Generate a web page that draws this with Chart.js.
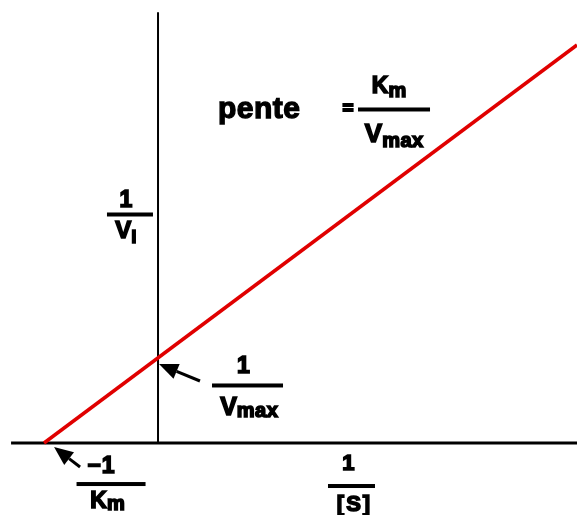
<!DOCTYPE html>
<html>
<head>
<meta charset="utf-8">
<script src="https://cdn.jsdelivr.net/npm/chart.js@4.4.1/dist/chart.umd.min.js"></script>
<style>
html,body{margin:0;padding:0;background:#fff;}
#wrap{width:577px;height:515px;}
</style>
</head>
<body>
<div id="wrap"><canvas id="c" width="577" height="515"></canvas></div>
<script>
// Lineweaver-Burk plot (data units: x = 1/[S], y = 1/Vi)
const lineX = [-1.0, 3.675];          // red line, from -1/Km to right edge
const lineY = [0.0, 4.628];
const xAxisX = [-1.289, 3.675];       // horizontal axis extent
const xAxisY = [0, 0];
const yAxisX = [0, 0];                // vertical axis extent
const yAxisY = [0, 5.01];
const xRange = [-1.386, 3.675];
const yRange = [-0.837, 5.151];

// annotation anchors (data units); part = [text, fontSize, letterSpacing, dy]
const fracLabels = [
  {x:-0.246, y:2.657, w:46, top:[['1',23,0,0]], bot:[['V',24,0,0],['i',19,0,5]], dt:-7.5, db:23.5, dxt:-4, dxb:-4},
  {x:0.785,  y:0.669, w:71, top:[['1',23,0,0]], bot:[['V',25,0,0],['max',20,0.5,2]], dt:-12.5, db:29.5, dxt:-4, dxb:1.5},
  {x:-0.412, y:-0.477,w:69, top:[['−1',23,1,0]], bot:[['K',23,0,0],['m',20,0,2]], dt:-11, db:24, dxt:-10, dxb:-3.5},
  {x:1.697,  y:-0.5,  w:47, top:[['1',22,0,0]], bot:[['[S]',22,2,0]], dt:-16, db:25, dxt:-3, dxb:2},
  {x:2.070,  y:3.878, w:72, top:[['K',23,0,0],['m',20,0,4]], bot:[['V',26,0,0],['max',20,0.5,5]], dt:-16.5, db:32.5, dxt:-5, dxb:0}
];
const penteText = {x:0.526, y:3.779, text:'pente'};
const eqText = {x:1.667, y:3.884, text:'='};
const arrows = [
  {tip:[0.009,0.919], tail:[0.368,0.721]},
  {tip:[-0.912,-0.047], tail:[-0.684,-0.279]}
];

const toPts = (xs, ys) => xs.map((v,i)=>({x:v, y:ys[i]}));

const FONT = "'Liberation Sans', Arial, sans-serif";

function txt(ctx, s, x, y){
  ctx.fillText(s, x, y);
  ctx.strokeText(s, x, y);
}

function drawParts(ctx, parts, cx, baseline){
  let total = 0;
  const ws = parts.map(p=>{
    ctx.font = 'bold ' + p[1] + 'px ' + FONT;
    ctx.letterSpacing = p[2] + 'px';
    const w = ctx.measureText(p[0]).width;
    total += w;
    return w;
  });
  total -= parts[parts.length-1][2];
  let x = cx - total/2;
  parts.forEach((p,i)=>{
    ctx.font = 'bold ' + p[1] + 'px ' + FONT;
    ctx.letterSpacing = p[2] + 'px';
    txt(ctx, p[0], x, baseline + p[3]);
    x += ws[i];
  });
  ctx.letterSpacing = '0px';
}

const annot = {
  id:'annot',
  afterDatasetsDraw(chart){
    const ctx = chart.ctx, sx = chart.scales.x, sy = chart.scales.y;
    ctx.save();
    ctx.fillStyle = '#000';
    ctx.strokeStyle = '#000';
    ctx.lineWidth = 1.6;
    ctx.lineJoin = 'miter';
    ctx.textAlign = 'left';
    ctx.textBaseline = 'alphabetic';
    fracLabels.forEach(f=>{
      const cx = sx.getPixelForValue(f.x), ly = sy.getPixelForValue(f.y);
      ctx.fillRect(cx - f.w/2, ly - 2, f.w, 4);
      drawParts(ctx, f.top, cx + f.dxt, ly + f.dt);
      drawParts(ctx, f.bot, cx + f.dxb, ly + f.db);
    });
    ctx.lineWidth = 1.3;
    ctx.font = 'bold 30px ' + FONT;
    ctx.letterSpacing = '0.5px';
    txt(ctx, penteText.text, sx.getPixelForValue(penteText.x), sy.getPixelForValue(penteText.y));
    ctx.letterSpacing = '0px';
    // equals sign
    ctx.font = 'bold 18px ' + FONT;
    ctx.lineWidth = 2.2;
    ctx.textAlign = 'center';
    ctx.textBaseline = 'middle';
    txt(ctx, eqText.text, sx.getPixelForValue(eqText.x), sy.getPixelForValue(eqText.y));
    arrows.forEach(a=>{
      const tx = sx.getPixelForValue(a.tip[0]), ty = sy.getPixelForValue(a.tip[1]);
      const bx = sx.getPixelForValue(a.tail[0]), by = sy.getPixelForValue(a.tail[1]);
      const ang = Math.atan2(by-ty, bx-tx);
      const hl = 19, hw = 8;
      const hx = tx + hl*Math.cos(ang), hy = ty + hl*Math.sin(ang);
      ctx.lineWidth = 3;
      ctx.beginPath(); ctx.moveTo(hx,hy); ctx.lineTo(bx,by); ctx.stroke();
      ctx.beginPath();
      ctx.moveTo(tx,ty);
      ctx.lineTo(hx - hw*Math.sin(ang), hy + hw*Math.cos(ang));
      ctx.lineTo(hx + hw*Math.sin(ang), hy - hw*Math.cos(ang));
      ctx.closePath(); ctx.fill();
    });
    ctx.restore();
  }
};

new Chart(document.getElementById('c'), {
  type:'scatter',
  data:{datasets:[
    {label:'axe x', data:toPts(xAxisX,xAxisY), showLine:true, borderColor:'#000', borderWidth:3, pointRadius:0, order:3},
    {label:'axe y', data:toPts(yAxisX,yAxisY), showLine:true, borderColor:'#000', borderWidth:2, pointRadius:0, order:2},
    {label:'1/Vi', data:toPts(lineX,lineY), showLine:true, borderColor:'#e00000', borderWidth:3.5, pointRadius:0, order:1}
  ]},
  options:{
    responsive:false, animation:false,
    layout:{padding:0},
    plugins:{legend:{display:false}, tooltip:{enabled:false}},
    scales:{
      x:{type:'linear', display:false, min:xRange[0], max:xRange[1]},
      y:{type:'linear', display:false, min:yRange[0], max:yRange[1]}
    }
  },
  plugins:[annot]
});
</script>
</body>
</html>
